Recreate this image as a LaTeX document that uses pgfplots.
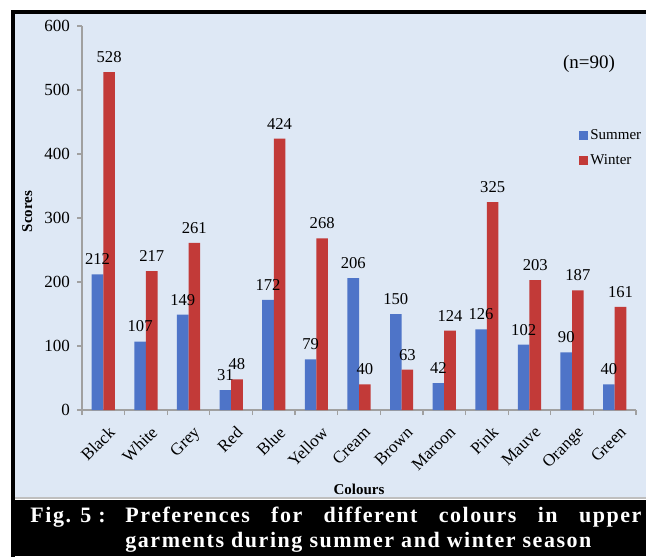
\documentclass[border=0pt]{standalone}
\usepackage{fontspec}
\setmainfont{Liberation Serif}
\newfontfamily\capfont[LetterSpace=7]{Liberation Serif}
\usepackage{pgfplots}
\pgfplotsset{compat=1.18}

\definecolor{bgblue}{RGB}{222,232,245}
\definecolor{sumblue}{RGB}{78,116,200}
\definecolor{winred}{RGB}{194,58,56}
\definecolor{axgray}{RGB}{160,160,160}

\pgfplotstableread{
x summer winter
0  212 528
1  107 217
2  149 261
3  31  48
4  172 424
5  79  268
6  206 40
7  150 63
8  42  124
9  126 325
10 102 203
11 90  187
12 40  161
}\colours

\begin{document}
\begin{tikzpicture}
\useasboundingbox (0,0) rectangle (323pt,278pt);
\fill[white] (0,0) rectangle (323pt,278pt);
\fill[bgblue] (7pt,29.5pt) rectangle (323pt,271.5pt);
\draw[gray!50, line width=0.6pt] (7pt,29pt) -- (323pt,29pt);

\begin{axis}[
  at={(41pt,73pt)}, anchor=south west,
  scale only axis, width=277pt, height=192pt,
  ymin=0, ymax=600, xmin=-0.5, xmax=12.5,
  axis lines*=left,
  axis line style={axgray, line width=0.6pt},
  ytick={0,100,...,600},
  xtick={0,...,12},
  xticklabels={Black,White,Grey,Red,Blue,Yellow,Cream,Brown,Maroon,Pink,Mauve,Orange,Green},
  minor xtick={-0.5,0.5,...,12.5},
  tick align=outside,
  major tick length=2.5pt, minor tick length=2.5pt,
  tick style={axgray, line width=0.6pt},
  every major x tick/.append style={draw=none},
  x tick label style={rotate=45, anchor=north east, inner sep=1pt,
    yshift=-4pt, xshift=-1pt, font=\fontsize{8.5}{10}\selectfont},
  y tick label style={font=\fontsize{8.5}{10}\selectfont},
  /pgf/number format/assume math mode=true,
  ybar=0pt, bar width=5.8pt,
  nodes near coords,
  nodes near coords style={font=\fontsize{8.3}{10}\selectfont, inner sep=0pt,
    anchor=south, yshift=4.5pt, text=black},
  xlabel={\textbf{Colours}}, ylabel={\textbf{Scores}},
  label style={font=\fontsize{7.5}{9}\selectfont},
  xlabel style={at={(axis description cs:0.5,-0.208)}, anchor=center},
  ylabel style={at={(axis description cs:-0.099,0.517)}, anchor=center},
  legend style={at={(axis description cs:0.897,0.682)}, anchor=west,
    draw=none, fill=none, inner sep=0pt, row sep=4pt,
    font=\fontsize{7.5}{9}\selectfont, nodes={inner sep=1pt}},
  legend cell align=left,
]
\addplot[fill=sumblue, draw=none,
  legend image code/.code={\fill[sumblue] (0pt,-2.25pt) rectangle (4.5pt,2.25pt);}]
  table[x=x, y=summer] {\colours};
\addplot[fill=winred, draw=none,
  legend image code/.code={\fill[winred] (0pt,-2.25pt) rectangle (4.5pt,2.25pt);}]
  table[x=x, y=winter] {\colours};
\legend{Summer, Winter}
\end{axis}

\node[font=\fontsize{9.5}{11}\selectfont] at (294.5pt,246pt) {(n=90)};

% caption band
\fill[black] (5.5pt,0) rectangle (323pt,28pt);
\draw[line width=2pt] (6.5pt,-2pt) -- (6.5pt,272pt) -- (330pt,272pt);
\begin{scope}[every node/.style={text=white, inner sep=0pt, anchor=base west,
    font=\capfont\bfseries\fontsize{11}{13}\selectfont}]
\node at (15pt,17pt) {Fig. 5 :};
\node at (62.5pt,17pt) {\hbox to 258pt{Preferences\hfill for\hfill different\hfill colours\hfill in\hfill upper}};
\node at (62.5pt,4.5pt) {garments during summer and winter season};
\end{scope}
\end{tikzpicture}
\end{document}
